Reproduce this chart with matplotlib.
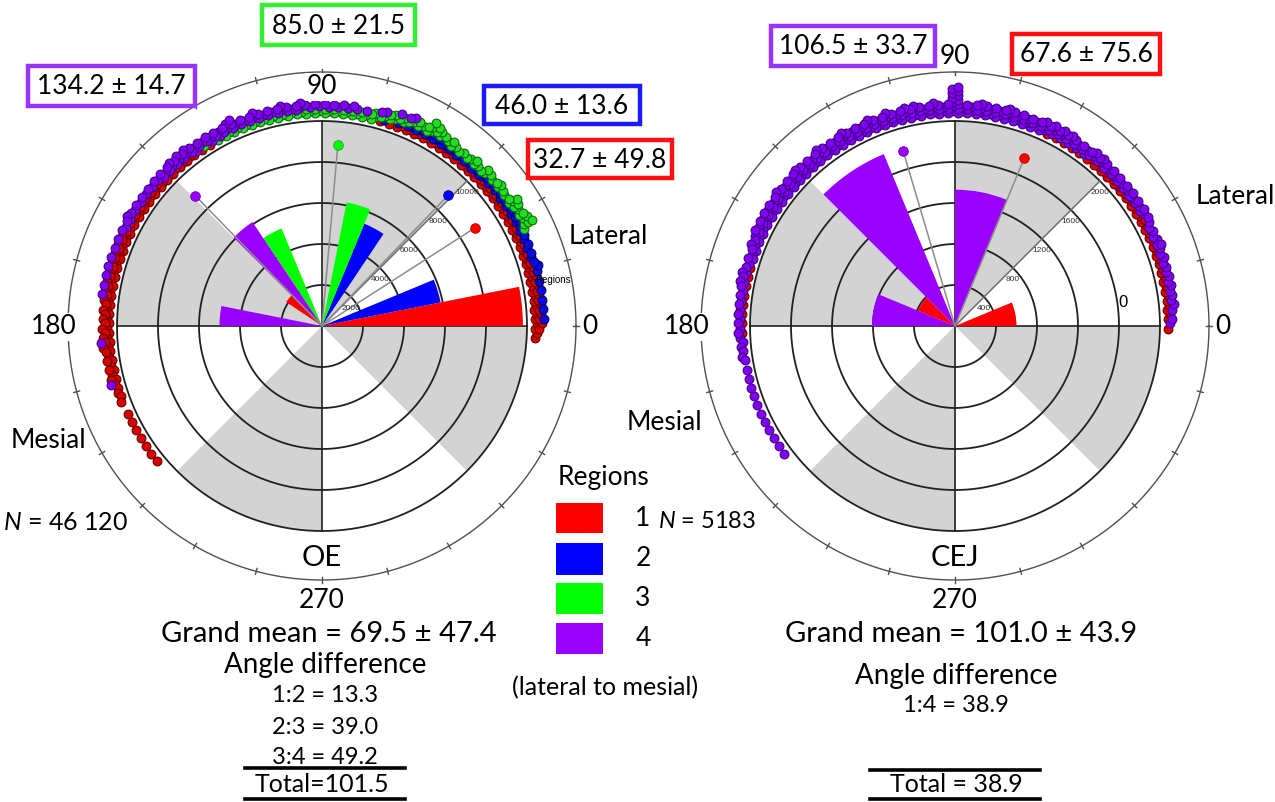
import numpy as np
import matplotlib
matplotlib.use("Agg")
import matplotlib.pyplot as plt
from matplotlib.patches import Rectangle
from matplotlib.lines import Line2D

plt.rcParams['font.family'] = ['Lato', 'DejaVu Sans']
plt.rcParams['mathtext.fontset'] = 'custom'
plt.rcParams['mathtext.it'] = 'Lato:italic'
plt.rcParams['mathtext.rm'] = 'Lato'

# ---------------- data ----------------
region_colors = ['#ff0000', '#0000ff', '#00ff00', '#9900ff']
dot_faces = ['#d80000', '#0a0ae6', '#22dd22', '#8200f2']
dot_edges = ['#6a0000', '#00006e', '#0f6a0f', '#44008a']
mean_edges = ['#b00000', '#0000a0', '#20a020', '#6a00b0']

# OE rose: 11.25 degree bins (start angle, count) per region
oe_bin_width = 11.25
oe_bin_starts = [[0.0, 135.0], [11.25, 56.25], [67.5, 112.5], [123.75, 168.75]]
oe_bin_counts = [[9800, 2100], [5900, 5400], [6150, 5150], [6100, 5000]]
oe_ring_values = [2000, 4000, 6000, 8000, 10000]
oe_mean_angles = [32.7, 46.0, 85.0, 134.2]
oe_mean_sd = [49.8, 13.6, 21.5, 14.7]

# CEJ rose: 22.5 degree bins, regions 1 and 4
cej_bin_width = 22.5
cej_bin_starts = [[0.0, 135.0], [], [], [67.5, 112.5, 157.5]]
cej_bin_counts = [[600, 390], [], [], [1330, 1815, 810]]
cej_ring_values = [400, 800, 1200, 1600, 2000]
cej_mean_angles = [67.6, None, None, 106.5]
cej_mean_sd = [75.6, None, None, 33.7]

# stacked individual measurements around the rim (dots per 2.5 degree column)
oe_dot_start = -2.5
oe_dots = [
    # region 1
    [2,
     4, 4, 4, 4,  4, 4, 4, 3,  3, 3, 3, 3,  3, 3, 3, 3,  3, 3, 2, 2,  2, 2, 2, 2,
     2, 2, 2, 2,  2, 1, 1, 0,  0, 0, 0, 0,  0, 0, 0, 0,  0, 0, 0, 0,  0, 0, 0, 0,
     0, 1, 1, 2,  2, 2, 2, 2,  3, 3, 3, 3,  3, 3, 4, 4,  4, 4, 4, 4,  4, 4, 4, 4,
     4, 4, 4, 3,  3, 3, 3, 2,  2, 0, 1, 1,  1, 1, 1, 1,
     1],
    # region 2
    [0,
     0, 1, 1, 1,  1, 1, 2, 2,  2, 2, 2, 3,  3, 2, 2, 2,  2, 2, 2, 2,  2, 2, 2, 3,
     3, 2, 2, 1,  1, 1, 0, 0,  0, 0, 0, 0,  0, 0, 0, 0,  0, 0, 0, 0,  0, 0, 0, 0,
     0, 0, 0, 0,  0, 0, 0, 0,  0, 0, 0, 0,  0, 0, 0, 0,  0, 0, 0, 0,  0, 0, 0, 0,
     0, 0, 0, 0,  0, 0, 0, 0,  0, 0, 0, 0,  0, 0, 0, 0,
     0],
    # region 3
    [0,
     0, 0, 0, 0,  0, 0, 0, 0,  0, 0, 1, 5,  3, 5, 2, 3,  2, 3, 2, 3,  2, 2, 3, 3,
     5, 3, 3, 3,  3, 3, 3, 3,  3, 3, 3, 3,  3, 3, 3, 2,  2, 2, 2, 2,  2, 2, 2, 1,
     1, 1, 0, 0,  0, 0, 0, 0,  0, 0, 0, 0,  0, 0, 0, 0,  0, 0, 0, 0,  0, 0, 0, 0,
     0, 0, 0, 0,  0, 0, 0, 0,  0, 0, 0, 0,  0, 0, 0, 0,
     0],
    # region 4
    [0,
     0, 0, 0, 0,  0, 0, 0, 0,  0, 0, 0, 0,  0, 0, 0, 0,  0, 0, 0, 0,  0, 0, 0, 0,
     0, 0, 1, 1,  1, 1, 1, 1,  1, 2, 2, 2,  2, 2, 3, 3,  4, 3, 3, 4,  3, 3, 5, 4,
     4, 3, 4, 4,  4, 4, 3, 3,  2, 2, 2, 2,  3, 2, 1, 1,  1, 1, 1, 1,  1, 1, 0, 0,
     0, 0, 1, 0,  0, 0, 1, 0,  0, 0, 0, 0,  0, 0, 0, 0,
     0],
]

cej_dot_start = 0.0
cej_dots = [
    # region 1
    [1, 2, 2, 2,  2, 2, 2, 2,  2, 2, 2, 2,  3, 2, 2, 2,  2, 2, 2, 2,  2, 1, 1, 1,
     1, 1, 1, 0,  0, 0, 0, 0,  0, 0, 0, 0,  0, 0, 0, 0,  0, 0, 0, 0,  0, 0, 0, 0,
     0, 0, 0, 0,  0, 0, 0, 0,  0, 0, 0, 0,  0, 0, 0, 0,  0, 0, 1, 1,  1, 1, 1, 1,
     1, 1, 0, 0,  0, 0, 0, 0,  0, 0, 0, 0,  0, 0, 0, 0,
     0],
    [0] * 89,
    [0] * 89,
    # region 4
    [1, 1, 2, 2,  2, 2, 2, 2,  2, 3, 2, 2,  2, 3, 3, 3,  3, 3, 3, 4,  4, 4, 4, 5,
     5, 5, 5, 5,  5, 5, 6, 5,  5, 6, 5, 5,  13, 5, 6, 5,  6, 6, 5, 6,  5, 6, 5, 5,
     6, 5, 5, 6,  5, 5, 6, 5,  5, 6, 5, 5,  5, 5, 5, 4,  3, 3, 3, 3,  2, 2, 2, 2,
     2, 2, 2, 2,  1, 1, 1, 1,  1, 1, 1, 1,  1, 1, 1, 1,
     0],
]

shade_starts = [45, 135, 225, 315]

# ---------------- figure geometry (pixels) ----------------
W, H = 1275, 802
fig = plt.figure(figsize=(W / 100, H / 100), dpi=100)


def fx(x):
    return x / W


def fy(y):
    return 1 - y / H


R_GRID = 205.0   # outermost grid ring
R_AX = 262.0     # half size of each polar axes
R_RIM = 254.0    # outer reference circle
DOT_BASE = 213.0
DOT_STEP = 2.2
DOT_S = 40
DOT_SWAY = [-0.7, 0.7]   # alternate stacked dots slightly left / right


def rad(a):
    return np.deg2rad(a)


def make_polar(cx, cy, rmax):
    ax = fig.add_axes([fx(cx - R_AX), fy(cy + R_AX), 2 * R_AX / W, 2 * R_AX / H],
                      projection='polar')
    ax.set_theta_zero_location('E')
    ax.set_ylim(0, rmax * R_AX / R_GRID)
    ax.grid(False)
    ax.set_xticks([])
    ax.set_yticks([])
    ax.spines['polar'].set_visible(False)
    ax.patch.set_visible(False)
    return ax


def draw_rose(ax, rmax, rings, starts, counts, width, means, dots, dot_start,
              ring_label_dy=-11):
    k = rmax / R_GRID
    full = np.linspace(0, 2 * np.pi, 721)
    # alternating shaded sectors
    ax.bar(rad(np.array(shade_starts)), rmax, width=rad(45), bottom=0,
           align='edge', color='#d3d3d3', edgecolor='none', zorder=1)
    # grid rings and axes
    for v in rings:
        ax.plot(full, np.full_like(full, v), color='#202020', lw=1.3, zorder=2)
    for a in [0, 90, 180, 270]:
        ax.plot([rad(a), rad(a)], [0, rmax], color='#202020', lw=1.2, zorder=2)
    # rose bars
    for st, ct, c in zip(starts, counts, region_colors):
        if len(st):
            ax.bar(rad(np.array(st)), ct, width=rad(width), bottom=0,
                   align='edge', color=c, edgecolor='none', zorder=3)
    # radial scale along 45 degrees
    ax.plot([rad(45), rad(45)], [0, rmax], color='#6e6e6e', lw=1.1, zorder=4)
    for v in rings:
        ax.annotate(f'{v}', xy=(rad(45), v), xytext=(0, ring_label_dy),
                    textcoords='offset pixels', ha='center', va='center',
                    fontsize=6, family=['Liberation Sans'], color='#333333',
                    zorder=5)
    # mean directions
    r_mean = 182 * k
    for m, c, ec in zip(means, region_colors, mean_edges):
        if m is None:
            continue
        ax.plot([rad(m), rad(m)], [0, r_mean], color='#8c8c8c', lw=1.1, zorder=4)
        ax.scatter([rad(m)], [r_mean], s=48, c=c, edgecolors=ec, linewidths=0.6,
                   zorder=6)
    # outer rim with 15 degree ticks
    ax.plot(full, np.full_like(full, R_RIM * k), color='#505050', lw=1.0, zorder=2)
    for a in range(0, 360, 15):
        ax.plot([rad(a), rad(a)], [(R_RIM - 3) * k, (R_RIM + 3) * k],
                color='#505050', lw=1.0, zorder=2)
    # stacked measurement dots, region 1 innermost
    n = len(dots[0])
    ang = dot_start + 2.5 * np.arange(n)
    offset = np.zeros(n, dtype=int)
    for cnt, fc, ec in zip(dots, dot_faces, dot_edges):
        th, rr = [], []
        for i in range(n):
            for j in range(cnt[i]):
                level = offset[i] + j
                th.append(rad(ang[i] + DOT_SWAY[level % 2]))
                rr.append((DOT_BASE + DOT_STEP * level) * k)
        offset += np.asarray(cnt, dtype=int)
        if th:
            ax.scatter(th, rr, s=DOT_S, c=fc, edgecolors=ec, linewidths=0.8,
                       zorder=7)


ax_oe = make_polar(322, 326, oe_ring_values[-1])
draw_rose(ax_oe, oe_ring_values[-1], oe_ring_values, oe_bin_starts,
          oe_bin_counts, oe_bin_width, oe_mean_angles, oe_dots, oe_dot_start)

ax_cej = make_polar(955, 326, cej_ring_values[-1])
draw_rose(ax_cej, cej_ring_values[-1], cej_ring_values, cej_bin_starts,
          cej_bin_counts, cej_bin_width, cej_mean_angles, cej_dots, cej_dot_start)


# ---------------- annotations ----------------
def ftext(x, y, s, size, **kw):
    kw.setdefault('ha', 'center')
    kw.setdefault('va', 'center')
    return fig.text(fx(x), fy(y), s, fontsize=size, **kw)


def boxed(x0, y0, x1, y1, s, color, size=19):
    fig.patches.append(Rectangle((fx(x0), fy(y1)), (x1 - x0) / W, (y1 - y0) / H,
                                 transform=fig.transFigure, facecolor='white',
                                 edgecolor=color, lw=3.2, zorder=10))
    ftext((x0 + x1) / 2, (y0 + y1) / 2 + 1, s, size, zorder=11)


white_bg = dict(facecolor='white', edgecolor='none', pad=1)

# mean +/- sd labels
box_colors = ['#ff1010', '#1a1aff', '#33ee33', '#9933ff']
boxed(262, 5, 415, 45, f'{oe_mean_angles[2]:.1f} ± {oe_mean_sd[2]:.1f}', box_colors[2])
boxed(28, 66, 195, 106, f'{oe_mean_angles[3]:.1f} ± {oe_mean_sd[3]:.1f}', box_colors[3])
boxed(484, 86, 640, 124, f'{oe_mean_angles[1]:.1f} ± {oe_mean_sd[1]:.1f}', box_colors[1])
boxed(528, 140, 672, 178, f'{oe_mean_angles[0]:.1f} ± {oe_mean_sd[0]:.1f}', box_colors[0])
boxed(771, 26, 935, 66, f'{cej_mean_angles[3]:.1f} ± {cej_mean_sd[3]:.1f}', box_colors[3])
boxed(1012, 34, 1160, 74, f'{cej_mean_angles[0]:.1f} ± {cej_mean_sd[0]:.1f}', box_colors[0])

# compass labels
for cx, y90 in [(322, 87), (955, 57)]:
    ftext(cx, y90, '90', 19, bbox=white_bg, zorder=9)
    ftext(cx + 268, 327, '0', 19, bbox=white_bg, zorder=9)
    ftext(cx - 268, 327, '180', 19, bbox=white_bg, zorder=9)
    ftext(cx, 600, '270', 19, bbox=white_bg, zorder=9)

ftext(608, 236, 'Lateral', 19)
ftext(1235, 197, 'Lateral', 19)
ftext(48, 440, 'Mesial', 19)
ftext(664, 422, 'Mesial', 19)
ftext(66, 522, r'$\it{N}$ = 46 120', 18)
ftext(707, 522, r'$\it{N}$ = 5183', 17)
ftext(322, 558, 'OE', 21)
ftext(955, 558, 'CEJ', 21)
ftext(553, 280, 'Regions', 7, family=['Liberation Sans'])
ftext(1123, 303, '0', 12, family=['Liberation Sans'])

# legend
ftext(604, 478, 'Regions', 19)
legend_rows = [(503, 533), (543, 575), (583, 614), (623, 654)]
for i, ((y0, y1), c) in enumerate(zip(legend_rows, region_colors)):
    fig.patches.append(Rectangle((fx(556), fy(y1)), 47 / W, (y1 - y0) / H,
                                 transform=fig.transFigure, facecolor=c,
                                 edgecolor='none'))
    ftext(643, (y0 + y1) / 2, str(i + 1), 19)
ftext(605, 688, '(lateral to mesial)', 18)

# summary statistics
ftext(329, 634, 'Grand mean = 69.5 ± 47.4', 21)
ftext(325, 665, 'Angle difference', 20)
ftext(325, 696, '1:2 = 13.3', 17)
ftext(325, 727, '2:3 = 39.0', 17)
ftext(325, 757, '3:4 = 49.2', 17)
ftext(322, 784, 'Total=101.5', 18)
for y in (768, 799):
    fig.add_artist(Line2D([fx(245), fx(405)], [fy(y), fy(y)], color='black', lw=2.6))

ftext(961, 634, 'Grand mean = 101.0 ± 43.9', 21)
ftext(956, 676, 'Angle difference', 20)
ftext(956, 705, '1:4 = 38.9', 17)
ftext(956, 785, 'Total = 38.9', 18)
for y in (770, 799):
    fig.add_artist(Line2D([fx(870), fx(1040)], [fy(y), fy(y)], color='black', lw=2.6))

fig.savefig('out.png', dpi=100)
